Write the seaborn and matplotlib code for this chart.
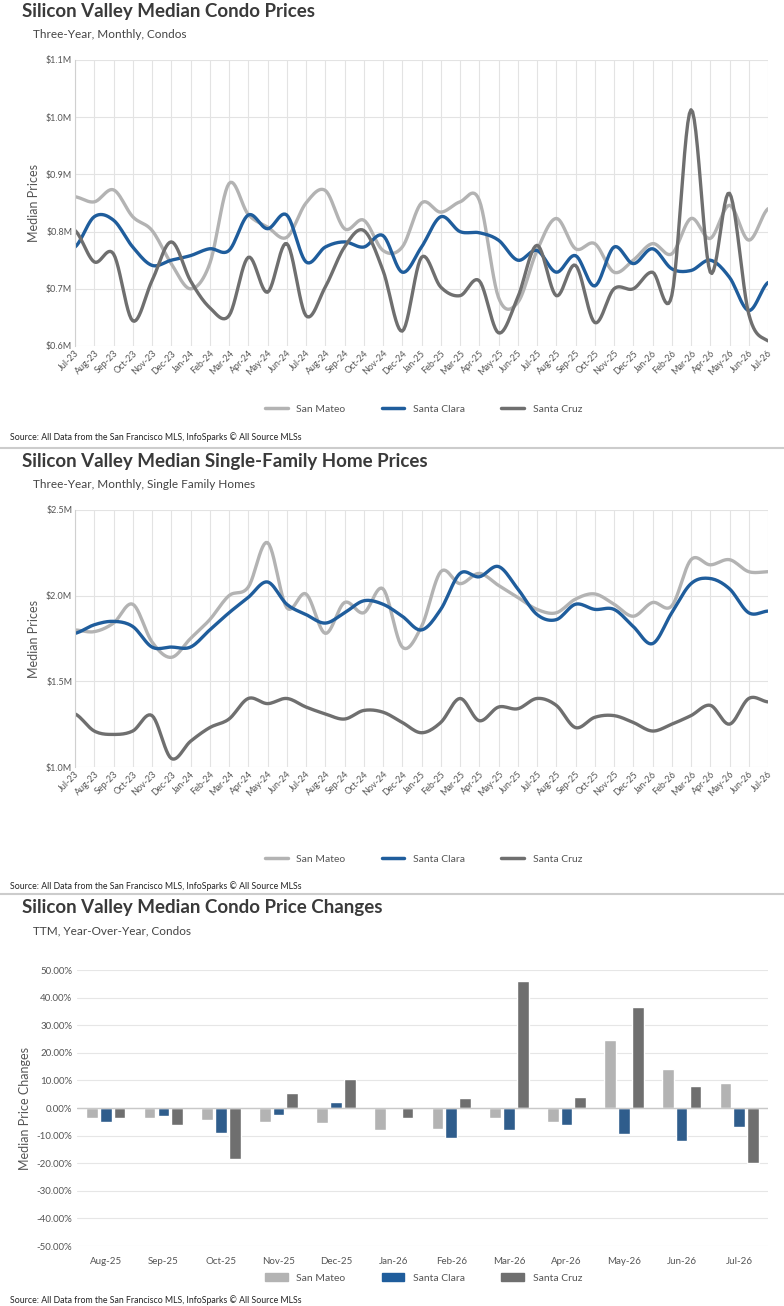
import numpy as np
import pandas as pd
import seaborn as sns
import matplotlib.pyplot as plt
from matplotlib.ticker import FuncFormatter

months = ["Jul-23", "Aug-23", "Sep-23", "Oct-23", "Nov-23", "Dec-23", "Jan-24", "Feb-24", "Mar-24",
          "Apr-24", "May-24", "Jun-24", "Jul-24", "Aug-24", "Sep-24", "Oct-24", "Nov-24", "Dec-24",
          "Jan-25", "Feb-25", "Mar-25", "Apr-25", "May-25", "Jun-25", "Jul-25", "Aug-25", "Sep-25",
          "Oct-25", "Nov-25", "Dec-25", "Jan-26", "Feb-26", "Mar-26", "Apr-26", "May-26", "Jun-26", "Jul-26"]

# condo medians ($M)
condo_sm = [0.861, 0.852, 0.873, 0.826, 0.802, 0.744, 0.700, 0.744, 0.884, 0.830, 0.808, 0.790, 0.850,
            0.872, 0.805, 0.820, 0.767, 0.773, 0.850, 0.834, 0.852, 0.855, 0.685, 0.676, 0.767, 0.823,
            0.770, 0.779, 0.729, 0.750, 0.779, 0.761, 0.823, 0.788, 0.846, 0.785, 0.840]
condo_sc = [0.773, 0.826, 0.820, 0.773, 0.741, 0.750, 0.758, 0.770, 0.767, 0.829, 0.805, 0.829, 0.747,
            0.773, 0.782, 0.773, 0.793, 0.729, 0.773, 0.826, 0.800, 0.798, 0.785, 0.750, 0.767, 0.729,
            0.758, 0.705, 0.773, 0.744, 0.770, 0.735, 0.732, 0.750, 0.720, 0.662, 0.711]
condo_scz = [0.802, 0.747, 0.761, 0.644, 0.714, 0.782, 0.714, 0.667, 0.653, 0.755, 0.694, 0.779, 0.653,
             0.703, 0.773, 0.802, 0.732, 0.626, 0.755, 0.703, 0.688, 0.714, 0.623, 0.685, 0.776, 0.688,
             0.741, 0.641, 0.700, 0.700, 0.729, 0.688, 1.013, 0.729, 0.867, 0.656, 0.609]

# single-family medians ($M)
sfh_sm = [1.80, 1.79, 1.84, 1.95, 1.73, 1.64, 1.75, 1.86, 2.00, 2.05, 2.31, 1.93, 2.01, 1.78, 1.96, 1.90,
          2.04, 1.70, 1.82, 2.14, 2.07, 2.13, 2.06, 1.99, 1.92, 1.90, 1.98, 2.01, 1.95, 1.88, 1.96, 1.94,
          2.21, 2.18, 2.21, 2.14, 2.14]
sfh_sc = [1.78, 1.83, 1.85, 1.82, 1.70, 1.70, 1.70, 1.80, 1.90, 1.99, 2.08, 1.95, 1.89, 1.84, 1.90, 1.97,
          1.95, 1.88, 1.80, 1.92, 2.13, 2.11, 2.17, 2.04, 1.89, 1.86, 1.95, 1.92, 1.92, 1.82, 1.72, 1.90,
          2.07, 2.10, 2.04, 1.90, 1.91]
sfh_scz = [1.31, 1.21, 1.19, 1.21, 1.30, 1.05, 1.15, 1.23, 1.28, 1.40, 1.37, 1.40, 1.35, 1.31, 1.28, 1.33,
           1.32, 1.26, 1.20, 1.26, 1.40, 1.27, 1.35, 1.34, 1.40, 1.36, 1.23, 1.29, 1.30, 1.26, 1.21, 1.25,
           1.30, 1.36, 1.25, 1.40, 1.38]

# YoY change (%)
chg_months = ["Aug-25", "Sep-25", "Oct-25", "Nov-25", "Dec-25", "Jan-26", "Feb-26", "Mar-26",
              "Apr-26", "May-26", "Jun-26", "Jul-26"]
chg_sm = [-3.5, -3.5, -4.5, -5.0, -5.5, -8.0, -7.5, -3.5, -5.0, 24.5, 14.0, 9.0]
chg_sc = [-5.0, -3.0, -9.0, -2.5, 2.0, -0.5, -11.0, -8.0, -6.0, -9.5, -12.0, -7.0]
chg_scz = [-3.5, -6.0, -18.5, 5.5, 10.5, -3.5, 3.5, 46.0, 4.0, 36.5, 8.0, -20.0]

names = ["San Mateo", "Santa Clara", "Santa Cruz"]
colors = {"San Mateo": "#b3b3b3", "Santa Clara": "#1f5d9c", "Santa Cruz": "#6f6f6f"}
TXT = "#444444"
SRC = "Source: All Data from the San Francisco MLS, InfoSparks © All Source MLSs"

sns.set_style("white")
plt.rcParams["font.family"] = ["Lato", "DejaVu Sans"]

W, H = 784, 1306
fig = plt.figure(figsize=(W / 100, H / 100), dpi=100)


def box(l, t, r, b):
    return [l / W, 1 - b / H, (r - l) / W, (b - t) / H]


def smooth(y, n=12):
    # Catmull-Rom curve through the monthly points, for drawing only
    y = np.asarray(y, float)
    p = np.concatenate([[y[0]], y, [y[-1]]])
    xs, ys = [], []
    for i in range(len(y) - 1):
        p0, p1, p2, p3 = p[i], p[i + 1], p[i + 2], p[i + 3]
        t = np.linspace(0, 1, n, endpoint=False)
        ys.append(0.5 * (2 * p1 + (-p0 + p2) * t + (2 * p0 - 5 * p1 + 4 * p2 - p3) * t ** 2
                         + (-p0 + 3 * p1 - 3 * p2 + p3) * t ** 3))
        xs.append(i + t)
    xs.append([len(y) - 1])
    ys.append([y[-1]])
    return np.concatenate(xs), np.concatenate(ys)


def header(ty, title, sub):
    fig.text(22 / W, 1 - ty / H, title, fontsize=13.5, fontweight="bold", color="#3a3a3a", va="center")
    fig.text(33 / W, 1 - (ty + 23) / H, sub, fontsize=8.5, color=TXT, va="center")


def footer(ly, sy, line_y=None):
    fig.text(10 / W, 1 - sy / H, SRC, fontsize=6.3, color="#222222", va="center")
    if line_y:
        fig.add_artist(plt.Line2D([0, 1], [1 - line_y / H] * 2, color="#cccccc", lw=1.5))


def line_panel(top, bottom, series, ylim, step, fmt):
    ax = fig.add_axes(box(75, top, 768, bottom))
    rows = []
    for name, vals in zip(names, series):
        xs, ys = smooth(vals)
        rows.append(pd.DataFrame({"x": xs, "y": ys, "area": name}))
    df = pd.concat(rows)
    sns.lineplot(data=df, x="x", y="y", hue="area", palette=colors, lw=2.4, ax=ax,
                 legend=False, sort=False, estimator=None)
    ax.set_xlim(0, len(months) - 1)
    ax.set_ylim(*ylim)
    ax.set_yticks(np.arange(ylim[0], ylim[1] + 1e-9, step))
    ax.yaxis.set_major_formatter(FuncFormatter(fmt))
    ax.set_xticks(range(len(months)))
    ax.set_xticklabels(months, rotation=45, ha="right", rotation_mode="anchor")
    ax.tick_params(axis="both", labelsize=6.5, colors="#555555", length=0, pad=2)
    ax.grid(True, color="#e3e3e3", lw=0.8)
    ax.set_axisbelow(True)
    for s in ax.spines.values():
        s.set_visible(False)
    ax.spines["left"].set_visible(True)
    ax.spines["left"].set_color("#d0d0d0")
    ax.set_xlabel("")
    ax.set_ylabel("Median Prices", fontsize=9, color="#555555")
    return ax


def legend(y, patch=False):
    from matplotlib.lines import Line2D
    from matplotlib.patches import Patch
    if patch:
        h = [Patch(color=colors[n]) for n in names]
    else:
        h = [Line2D([], [], color=colors[n], lw=2.5) for n in names]
    fig.legend(h, names, loc="center", bbox_to_anchor=(0.54, 1 - y / H), ncol=3, frameon=False,
               fontsize=7.5, labelcolor="#555555", handlelength=2.2, columnspacing=3.5)


# panel 1
header(12, "Silicon Valley Median Condo Prices", "Three-Year, Monthly, Condos")
line_panel(60, 346, [condo_sm, condo_sc, condo_scz], (0.6, 1.1), 0.1, lambda v, p: f"${v:.1f}M")
legend(409)
footer(409, 437, 448)

# panel 2
header(462, "Silicon Valley Median Single-Family Home Prices", "Three-Year, Monthly, Single Family Homes")
line_panel(510, 767, [sfh_sm, sfh_sc, sfh_scz], (1.0, 2.5), 0.5, lambda v, p: f"${v:.1f}M")
legend(859)
footer(859, 886, 894)

# panel 3
header(908, "Silicon Valley Median Condo Price Changes", "TTM, Year-Over-Year, Condos")
ax = fig.add_axes(box(77, 970, 768, 1246))
bars = pd.DataFrame({
    "month": chg_months * 3,
    "value": chg_sm + chg_sc + chg_scz,
    "area": np.repeat(names, len(chg_months)),
})
sns.barplot(data=bars, x="month", y="value", hue="area", palette=colors, ax=ax,
            width=0.72, gap=0.15, legend=False)
ax.set_ylim(-50, 50)
ax.set_yticks(np.arange(-50, 51, 10))
ax.yaxis.set_major_formatter(FuncFormatter(lambda v, p: f"{v:.2f}%"))
ax.axhline(0, color="#c8c8c8", lw=1)
ax.grid(True, axis="y", color="#e6e6e6", lw=0.8)
ax.set_axisbelow(True)
for s in ax.spines.values():
    s.set_visible(False)
ax.tick_params(axis="both", labelsize=7, colors="#555555", length=0)
ax.tick_params(axis="x", pad=8)
ax.set_xlabel("")
ax.set_ylabel("Median Price Changes", fontsize=9, color="#555555")
legend(1278, patch=True)
footer(1278, 1300)

fig.savefig("out.png", dpi=100)
